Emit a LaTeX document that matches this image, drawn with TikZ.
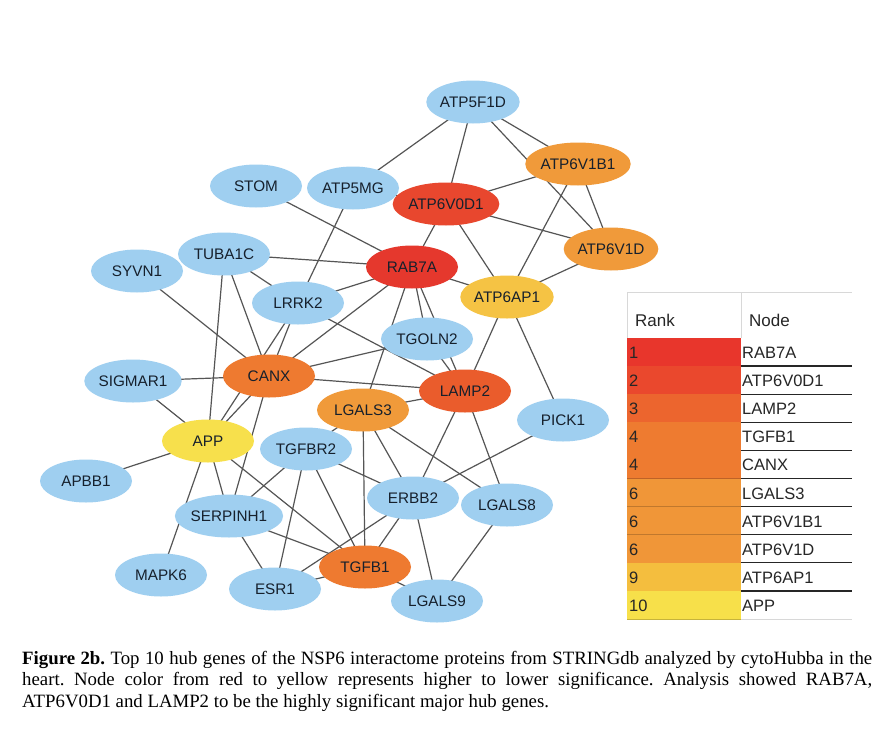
\documentclass[tikz,border=0pt]{standalone}
\usepackage{fontspec}
\setmainfont{Liberation Serif}
\newfontfamily\arialf{Liberation Sans}
\usetikzlibrary{shapes.geometric,backgrounds}
\definecolor{nblue}{HTML}{9FCFF0}
\definecolor{ntext}{HTML}{16202C}
\definecolor{edgec}{HTML}{555555}
\definecolor{cr1}{HTML}{E5382D}
\definecolor{cr2}{HTML}{E8472E}
\definecolor{cr3}{HTML}{EA5C2C}
\definecolor{cr4}{HTML}{EE7A30}
\definecolor{cr6}{HTML}{F09A3A}
\definecolor{cr9}{HTML}{F5C344}
\definecolor{cr10}{HTML}{F7E04C}
\definecolor{t1}{HTML}{E8362C}
\definecolor{t2}{HTML}{EA482D}
\definecolor{t3}{HTML}{EC652E}
\definecolor{t4}{HTML}{EE7B30}
\definecolor{t6}{HTML}{F09638}
\definecolor{t9}{HTML}{F4BE3E}
\definecolor{t10}{HTML}{F7E04A}
\definecolor{gridc}{HTML}{D8D8D8}
\begin{document}
\begin{tikzpicture}[x=1pt,y=-1pt,
  gene/.style={ellipse, minimum width=92pt, minimum height=43pt, inner sep=0pt,
    font=\arialf\fontsize{15.3}{15.3}\selectfont, text=ntext},
  gb/.style={gene, fill=nblue},
  link/.style={draw=edgec, line width=1.2pt},
  celltxt/.style={anchor=base west, inner sep=0pt, font=\arialf\fontsize{16.5}{16.5}\selectfont, text=black!85},
  headtxt/.style={anchor=base west, inner sep=0pt, font=\arialf\fontsize{17}{17}\selectfont, text=black!85}
]
\useasboundingbox (0,0) rectangle (894,742);

% ---------- nodes ----------
\node[gb] (ATP5F1D) at (473,102) {ATP5F1D};
\node[gene, fill=cr6] (ATP6V1B1) at (578,164) {ATP6V1B1};
\node[gb] (STOM) at (256,186) {STOM};
\node[gb] (ATP5MG) at (353,188) {ATP5MG};
\node[gene, fill=cr2] (ATP6V0D1) at (446,204) {ATP6V0D1};
\node[gene, fill=cr6] (ATP6V1D) at (611,249) {ATP6V1D};
\node[gb] (TUBA1C) at (224,254) {TUBA1C};
\node[gb] (SYVN1) at (137,271) {SYVN1};
\node[gene, fill=cr1] (RAB7A) at (412,267) {RAB7A};
\node[gene, fill=cr9] (ATP6AP1) at (507,297) {ATP6AP1};
\node[gb] (LRRK2) at (298,303) {LRRK2};
\node[gb] (TGOLN2) at (427,339) {TGOLN2};
\node[gene, fill=cr4] (CANX) at (269,376) {CANX};
\node[gb] (SIGMAR1) at (133,381) {SIGMAR1};
\node[gene, fill=cr3] (LAMP2) at (465,391) {LAMP2};
\node[gene, fill=cr6] (LGALS3) at (363,410) {LGALS3};
\node[gb] (PICK1) at (563,420) {PICK1};
\node[gene, fill=cr10] (APP) at (208,441) {APP};
\node[gb] (TGFBR2) at (306,449) {TGFBR2};
\node[gb] (APBB1) at (86,481) {APBB1};
\node[gb] (ERBB2) at (413,498) {ERBB2};
\node[gb] (LGALS8) at (507,505) {LGALS8};
\node[gb] (SERPINH1) at (229,516) {SERPINH1};
\node[gb] (MAPK6) at (161,575) {MAPK6};
\node[gene, fill=cr4] (TGFB1) at (365,567) {TGFB1};
\node[gb] (ESR1) at (275,589) {ESR1};
\node[gb] (LGALS9) at (437,601) {LGALS9};

% ---------- edges (behind nodes) ----------
\begin{scope}[on background layer]
\fill[white] (0,0) rectangle (894,742);
\foreach \a/\b in {ATP5F1D/ATP5MG, ATP5F1D/ATP6V0D1, ATP5F1D/ATP6V1B1, ATP5F1D/ATP6V1D,
  ATP6V1B1/ATP6V0D1, ATP6V1B1/ATP6V1D, ATP6V1B1/ATP6AP1,
  ATP6V0D1/ATP5MG, ATP6V0D1/RAB7A, ATP6V0D1/ATP6AP1, ATP6V0D1/ATP6V1D,
  ATP6V1D/ATP6AP1, STOM/RAB7A, ATP5MG/LRRK2,
  TUBA1C/RAB7A, TUBA1C/LRRK2, TUBA1C/APP, TUBA1C/CANX, SYVN1/CANX,
  RAB7A/LRRK2, RAB7A/CANX, RAB7A/ATP6AP1, RAB7A/TGOLN2, RAB7A/LAMP2, RAB7A/LGALS3,
  TGOLN2/LAMP2, TGOLN2/CANX, LRRK2/CANX, LRRK2/LAMP2, LRRK2/APP,
  CANX/SIGMAR1, CANX/LAMP2, CANX/APP, CANX/SERPINH1,
  SIGMAR1/APP, APBB1/APP, APP/MAPK6, APP/SERPINH1, APP/TGFB1,
  TGFBR2/SERPINH1, TGFBR2/ESR1, TGFBR2/TGFB1, TGFBR2/ERBB2, TGFBR2/LGALS3,
  SERPINH1/ESR1, SERPINH1/TGFB1, ESR1/TGFB1, ESR1/ERBB2,
  LGALS3/LAMP2, LGALS3/TGFB1, LGALS3/ERBB2, LGALS3/LGALS8,
  LAMP2/ERBB2, LAMP2/LGALS8, LAMP2/ATP6AP1, ATP6AP1/PICK1, PICK1/ERBB2,
  ERBB2/TGFB1, ERBB2/LGALS9, LGALS8/LGALS9, TGFB1/LGALS9}
  \draw[link] (\a.center) -- (\b.center);
\end{scope}

% ---------- table ----------
\draw[gridc, line width=1pt] (627,338) -- (627,292) -- (852,292);
\draw[gridc, line width=1pt] (741,292) -- (741,338);
\node[headtxt] (hrank) at (635,326) {Rank};
\node[headtxt] (hnode) at (749,326) {Node};
\foreach \i/\c/\r/\n in {0/t1/1/RAB7A, 1/t2/2/ATP6V0D1, 2/t3/3/LAMP2, 3/t4/4/TGFB1,
  4/t4/4/CANX, 5/t6/6/LGALS3, 6/t6/6/ATP6V1B1, 7/t6/6/ATP6V1D, 8/t9/9/ATP6AP1, 9/t10/10/APP}{
  \fill[\c] (627,338+28.1*\i) rectangle (741,338+28.1*\i+28.1);
  \draw[\c!80!black, line width=0.5pt] (627,338+28.1*\i+28.1) -- (741,338+28.1*\i+28.1);
  \node[celltxt] (rk\i) at (629,338+28.1*\i+20.5) {\r};
  \node[celltxt] (nd\i) at (742,338+28.1*\i+20.5) {\n};
}
\foreach \i in {1,...,9}
  \draw[black!85, line width=1.3pt] (741,338+28.1*\i) -- (852,338+28.1*\i);
\draw[gridc, line width=1pt] (741,619) -- (852,619);

% ---------- caption ----------
\node[anchor=north west, inner sep=0pt, align=left,
  font=\fontsize{18.8}{21.5}\selectfont\frenchspacing] (caption) at (22,651)
  {\makebox[850pt][s]{\textbf{Figure 2b.} Top 10 hub genes of the NSP6 interactome proteins from STRINGdb analyzed by cytoHubba in the}\\
   \makebox[850pt][s]{heart. Node color from red to yellow represents higher to lower significance. Analysis showed RAB7A,}\\
   ATP6V0D1 and LAMP2 to be the highly significant major hub genes.};
\end{tikzpicture}
\end{document}
